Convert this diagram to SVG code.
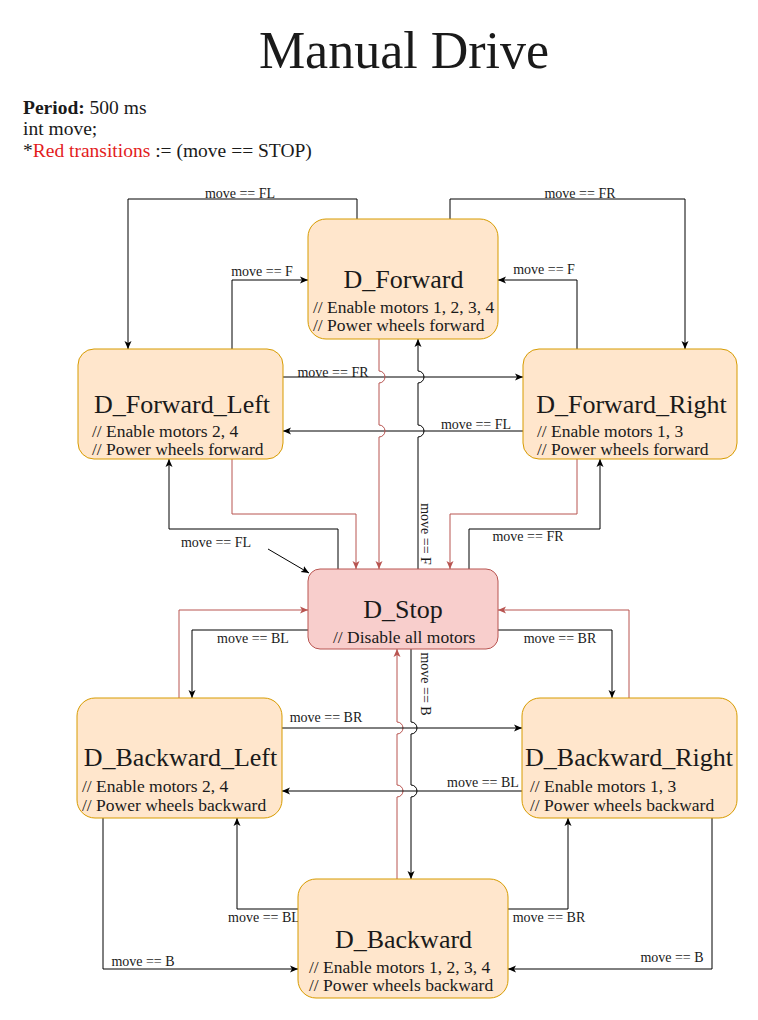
<svg xmlns="http://www.w3.org/2000/svg" width="758" height="1020" viewBox="0 0 758 1020" font-family="'Liberation Serif', 'Times New Roman', Times, Tinos, 'DejaVu Serif', 'Noto Serif', Georgia, serif">
<style>
text{font-family:'Liberation Serif','Times New Roman',Times,Tinos,'DejaVu Serif','Noto Serif',Georgia,serif;fill:#1a1a1a}
.title{font-size:52px}
.hdr{font-size:19.5px}
.t{font-size:26px;text-anchor:middle}
.c{font-size:17.5px}
.l{font-size:14px;text-anchor:middle}
.n{fill:#ffe6cc;stroke:#d79b00;stroke-width:1}
.s{fill:#f8cecc;stroke:#b85450;stroke-width:1}
.e{fill:none;stroke:#000;stroke-width:1;marker-end:url(#ab)}
.r{fill:none;stroke:#b85450;stroke-width:1;marker-end:url(#ar)}
</style>
<defs>
<marker id="ab" markerUnits="userSpaceOnUse" viewBox="0 0 8 8" refX="8" refY="4" markerWidth="8" markerHeight="8" orient="auto"><path d="M0,0.5 L8,4 L0,7.5 L2,4 Z" fill="#000"/></marker>
<marker id="ar" markerUnits="userSpaceOnUse" viewBox="0 0 8 8" refX="8" refY="4" markerWidth="8" markerHeight="8" orient="auto"><path d="M0,0.5 L8,4 L0,7.5 L2,4 Z" fill="#b85450"/></marker>
</defs>
<rect width="758" height="1020" fill="#fff"/>
<g id="header">
<text class="title" x="404" y="68" text-anchor="middle">Manual Drive</text>
<text class="hdr" x="23" y="114"><tspan font-weight="bold">Period:</tspan> 500 ms</text>
<text class="hdr" x="23" y="135">int move;</text>
<text class="hdr" x="23" y="157">*<tspan fill="#e31c1c">Red transitions</tspan> := (move == STOP)</text>
</g>
<g id="connectors">
<path class="e" d="M357,219 V199 H128 V349"/>
<text class="l" x="240" y="198">move == FL</text>
<path class="e" d="M450,219 V199 H685 V349"/>
<text class="l" x="580" y="198">move == FR</text>
<path class="e" d="M232,349 V280 H308"/>
<text class="l" x="262" y="276">move == F</text>
<path class="e" d="M577,349 V280 H498"/>
<text class="l" x="544" y="274">move == F</text>
<path class="e" d="M283,377 H523"/>
<text class="l" x="333" y="377">move == FR</text>
<path class="e" d="M523,431 H283"/>
<text class="l" x="476" y="429">move == FL</text>
<path class="e" d="M418,569 V437 A6,6 0 0 0 418,425 V383 A6,6 0 0 0 418,371 V339"/>
<text class="l" transform="translate(421,534) rotate(90)">move == F</text>
<path class="r" d="M379,339 V371 A6,6 0 0 1 379,383 V425 A6,6 0 0 1 379,437 V569"/>
<path class="r" d="M232,459 V514 H356 V569"/>
<path class="r" d="M577,459 V514 H450 V569"/>
<path class="e" d="M338,569 V529 H169 V459"/>
<text class="l" x="216" y="547">move == FL</text>
<path class="e" d="M268,549 L309,573"/>
<path class="e" d="M469,569 V529 H600 V459"/>
<text class="l" x="528" y="541">move == FR</text>
<path class="r" d="M179,698 V610 H308"/>
<path class="r" d="M629,698 V610 H498"/>
<path class="e" d="M308,630 H192 V698"/>
<text class="l" x="253" y="643">move == BL</text>
<path class="e" d="M498,630 H612 V698"/>
<text class="l" x="560" y="643">move == BR</text>
<path class="r" d="M397,879 V797 A6,6 0 0 0 397,785 V734 A6,6 0 0 0 397,722 V649"/>
<path class="e" d="M411,649 V722 A6,6 0 0 1 411,734 V785 A6,6 0 0 1 411,797 V879"/>
<text class="l" transform="translate(421,684) rotate(90)">move == B</text>
<path class="e" d="M282,728 H522"/>
<text class="l" x="326" y="722">move == BR</text>
<path class="e" d="M522,791 H282"/>
<text class="l" x="483" y="787">move == BL</text>
<path class="e" d="M103,818 V969 H298"/>
<text class="l" x="143" y="966">move == B</text>
<path class="e" d="M298,909 H237 V818"/>
<text class="l" x="264" y="922">move == BL</text>
<path class="e" d="M508,909 H568 V818"/>
<text class="l" x="549" y="922">move == BR</text>
<path class="e" d="M712,818 V969 H508"/>
<text class="l" x="672" y="962">move == B</text>
</g>
<g id="D_Forward">
<rect class="n" x="308" y="219" width="190" height="120" rx="18"/>
<text class="t" x="403.5" y="288">D_Forward</text>
<text class="c" x="313" y="313">// Enable motors 1, 2, 3, 4</text>
<text class="c" x="313" y="331">// Power wheels forward</text>
</g>
<g id="D_Forward_Left">
<rect class="n" x="78" y="349" width="205" height="110" rx="16"/>
<text class="t" x="182" y="413">D_Forward_Left</text>
<text class="c" x="92" y="437">// Enable motors 2, 4</text>
<text class="c" x="92" y="455">// Power wheels forward</text>
</g>
<g id="D_Forward_Right">
<rect class="n" x="523" y="349" width="214" height="110" rx="16"/>
<text class="t" x="631.5" y="413">D_Forward_Right</text>
<text class="c" x="537" y="437">// Enable motors 1, 3</text>
<text class="c" x="537" y="455">// Power wheels forward</text>
</g>
<g id="D_Stop">
<rect class="s" x="308" y="569" width="190" height="80" rx="12"/>
<text class="t" x="403" y="618">D_Stop</text>
<text class="c" x="333" y="643">// Disable all motors</text>
</g>
<g id="D_Backward_Left">
<rect class="n" x="77" y="698" width="205" height="120" rx="18"/>
<text class="t" x="180.5" y="766">D_Backward_Left</text>
<text class="c" x="82" y="792">// Enable motors 2, 4</text>
<text class="c" x="82" y="811">// Power wheels backward</text>
</g>
<g id="D_Backward_Right">
<rect class="n" x="522" y="698" width="215" height="120" rx="18"/>
<text class="t" x="629" y="766">D_Backward_Right</text>
<text class="c" x="530" y="792">// Enable motors 1, 3</text>
<text class="c" x="530" y="811">// Power wheels backward</text>
</g>
<g id="D_Backward">
<rect class="n" x="298" y="879" width="210" height="119" rx="18"/>
<text class="t" x="403.5" y="948">D_Backward</text>
<text class="c" x="309" y="973">// Enable motors 1, 2, 3, 4</text>
<text class="c" x="309" y="991">// Power wheels backward</text>
</g>
</svg>
